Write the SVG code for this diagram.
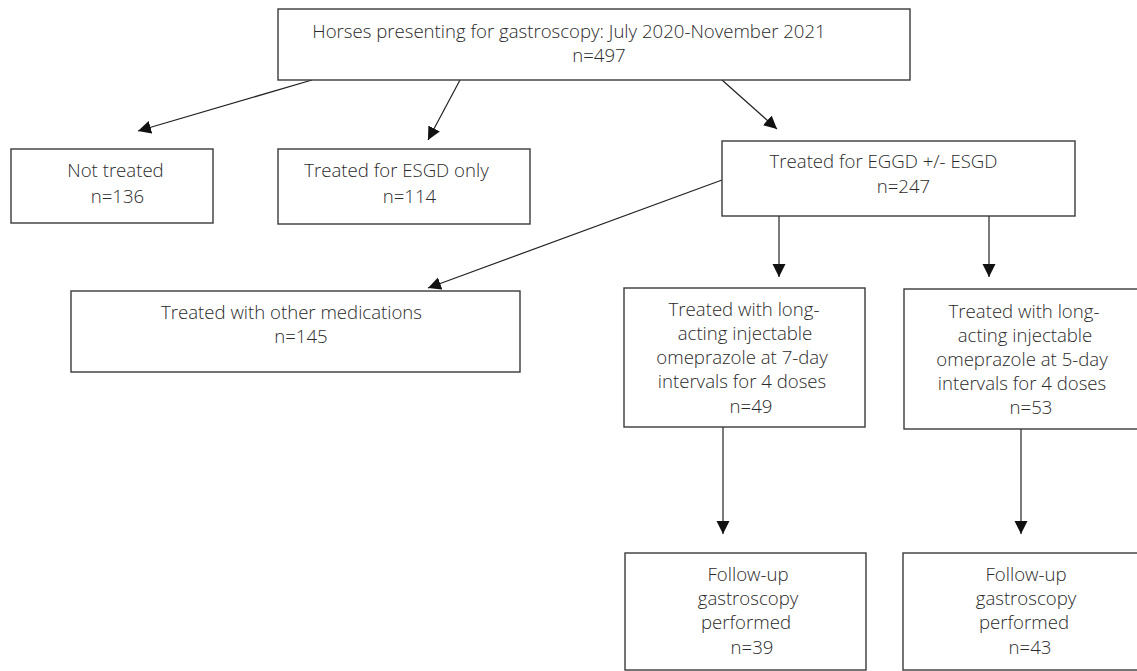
<svg xmlns="http://www.w3.org/2000/svg" width="1137" height="671" viewBox="0 0 1137 671">
<style>
  .box { fill: #ffffff; stroke: #3a3a3a; stroke-width: 1.4; }
  .t { font-family: "Open Sans", "Liberation Sans", sans-serif; font-size: 18.6px; font-weight: 300; fill: #2a2a2a; text-anchor: middle; }
  .c { stroke: #222222; stroke-width: 1.2; fill: none; marker-end: url(#ah); }
</style>
<defs>
  <marker id="ah" markerUnits="userSpaceOnUse" markerWidth="15" markerHeight="14" refX="13" refY="6.5" orient="auto">
    <path d="M0,0 L13,6.5 L0,13 z" fill="#111111"/>
  </marker>
</defs>
<rect width="1137" height="671" fill="#ffffff"/>
<g id="connectors">
  <line class="c" x1="312" y1="80" x2="138" y2="131"/>
  <line class="c" x1="460" y1="80" x2="428" y2="140"/>
  <line class="c" x1="722" y1="80" x2="777" y2="129"/>
  <line class="c" x1="722" y1="180" x2="428" y2="288"/>
  <line class="c" x1="779" y1="216" x2="779" y2="277"/>
  <line class="c" x1="989" y1="216" x2="989" y2="277"/>
  <line class="c" x1="723" y1="427" x2="723" y2="534"/>
  <line class="c" x1="1021" y1="429" x2="1021" y2="534"/>
</g>
<g id="node-all">
  <rect class="box" x="278" y="9" width="632" height="71"/>
  <text class="t" x="569" y="38">Horses presenting for gastroscopy: July 2020-November 2021</text>
  <text class="t" x="599" y="62">n=497</text>
</g>
<g id="node-not-treated">
  <rect class="box" x="11" y="149" width="202" height="74"/>
  <text class="t" x="115.5" y="177">Not treated</text>
  <text class="t" x="117.5" y="203">n=136</text>
</g>
<g id="node-esgd">
  <rect class="box" x="278" y="149" width="252" height="75"/>
  <text class="t" x="396.5" y="177">Treated for ESGD only</text>
  <text class="t" x="409.5" y="203">n=114</text>
</g>
<g id="node-eggd">
  <rect class="box" x="722" y="141" width="353" height="75"/>
  <text class="t" x="883.5" y="168">Treated for EGGD +/- ESGD</text>
  <text class="t" x="903.5" y="193">n=247</text>
</g>
<g id="node-other">
  <rect class="box" x="71" y="291" width="449" height="81"/>
  <text class="t" x="291.5" y="319">Treated with other medications</text>
  <text class="t" x="301" y="343">n=145</text>
</g>
<g id="node-7day">
  <rect class="box" x="624" y="288" width="241" height="139"/>
  <text class="t" x="744" y="316">Treated with long-</text>
  <text class="t" x="745" y="340">acting injectable</text>
  <text class="t" x="742" y="364">omeprazole at 7-day</text>
  <text class="t" x="742" y="388">intervals for 4 doses</text>
  <text class="t" x="751" y="413">n=49</text>
</g>
<g id="node-5day">
  <rect class="box" x="904" y="289" width="240" height="140"/>
  <text class="t" x="1024" y="318">Treated with long-</text>
  <text class="t" x="1025" y="342">acting injectable</text>
  <text class="t" x="1022" y="366">omeprazole at 5-day</text>
  <text class="t" x="1022" y="390">intervals for 4 doses</text>
  <text class="t" x="1031" y="414">n=53</text>
</g>
<g id="node-followup-7">
  <rect class="box" x="625" y="553" width="241" height="117"/>
  <text class="t" x="748" y="581">Follow-up</text>
  <text class="t" x="748" y="605">gastroscopy</text>
  <text class="t" x="746" y="629">performed</text>
  <text class="t" x="752" y="654">n=39</text>
</g>
<g id="node-followup-5">
  <rect class="box" x="903" y="553" width="240" height="117"/>
  <text class="t" x="1026" y="581">Follow-up</text>
  <text class="t" x="1026" y="605">gastroscopy</text>
  <text class="t" x="1024" y="629">performed</text>
  <text class="t" x="1030" y="654">n=43</text>
</g>
</svg>
